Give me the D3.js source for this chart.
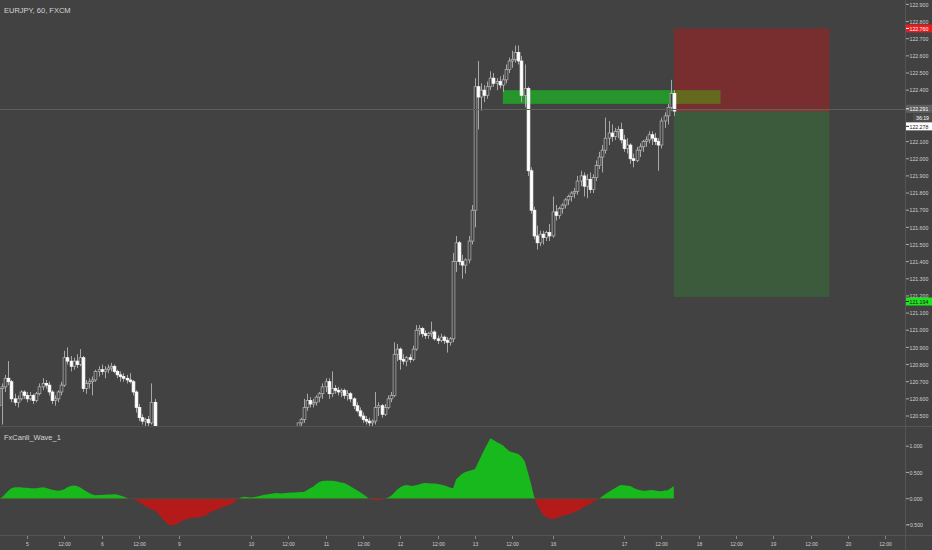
<!DOCTYPE html>
<html><head><meta charset="utf-8">
<script src="https://cdn.jsdelivr.net/npm/d3@7"></script>
<style>html,body{margin:0;padding:0;background:#424242;overflow:hidden}
text{font-family:"Liberation Sans","Arial",sans-serif;}</style>
</head><body>
<svg id="c" width="932" height="550"></svg>
<script>
const title = "EURJPY, 60, FXCM";
const indicatorName = "FxCanli_Wave_1";
const opens = [
120.56,120.66,120.67,120.72,120.70,120.60,120.58,120.60,120.64,120.62,
120.60,120.62,120.59,120.63,120.67,120.69,120.68,120.64,120.59,120.60,
120.64,120.68,120.84,120.82,120.79,120.82,120.80,120.84,120.66,120.69,
120.70,120.71,120.76,120.77,120.76,120.77,120.78,120.79,120.76,120.74,
120.73,120.72,120.71,120.70,120.64,120.55,120.49,120.47,120.48,120.46,
120.58,120.40,120.33,120.25,120.18,120.20,120.16,120.19,120.22,120.20,
120.15,120.19,120.24,120.21,120.23,120.27,120.25,120.30,120.28,120.33,
120.31,120.34,120.37,120.35,120.39,120.37,120.38,120.36,120.35,120.37,
120.34,120.36,120.37,120.36,120.38,120.36,120.39,120.37,120.40,120.38,
120.39,120.37,120.38,120.40,120.39,120.40,120.41,120.46,120.48,120.55,
120.59,120.57,120.58,120.61,120.63,120.67,120.70,120.63,120.66,120.65,
120.64,120.65,120.62,120.63,120.60,120.56,120.53,120.50,120.48,120.47,
120.46,120.47,120.55,120.56,120.51,120.55,120.60,120.62,120.86,120.89,
120.83,120.82,120.84,120.83,120.89,121.00,121.01,120.98,120.97,120.98,
120.99,120.95,120.94,120.96,120.94,120.93,120.95,121.40,121.51,121.40,
121.38,121.41,121.52,121.70,122.42,122.36,122.40,122.37,122.42,122.47,
122.44,122.45,122.43,122.46,122.52,122.57,122.58,122.62,122.57,122.37,
122.41,121.93,121.70,121.55,121.51,121.56,121.54,121.57,121.55,121.69,
121.67,121.71,121.73,121.76,121.78,121.80,121.81,121.87,121.90,121.84,
121.88,121.82,121.89,121.96,122.01,122.05,122.12,122.15,122.13,122.16,
122.17,122.11,122.06,122.08,122.00,121.99,122.05,122.07,122.10,122.11,
122.14,122.12,122.10,122.08,122.22,122.25,122.30,122.38];
const highs = [
120.68,120.69,120.74,120.82,120.71,120.63,120.62,120.65,120.65,120.64,
120.64,120.63,120.64,120.69,120.72,120.71,120.70,120.65,120.62,120.65,
120.70,120.88,120.90,120.85,120.84,120.86,120.89,120.85,120.71,120.72,
120.73,120.77,120.79,120.80,120.79,120.80,120.81,120.80,120.77,120.76,
120.75,120.74,120.75,120.71,120.65,120.57,120.51,120.49,120.50,120.69,
120.60,120.42,120.36,120.30,120.24,120.26,120.21,120.25,120.28,120.23,
120.22,120.26,120.27,120.25,120.30,120.31,120.32,120.34,120.35,120.37,
120.36,120.39,120.40,120.40,120.41,120.40,120.40,120.39,120.38,120.40,
120.37,120.39,120.41,120.40,120.42,120.40,120.42,120.41,120.42,120.41,
120.42,120.40,120.41,120.42,120.42,120.42,120.43,120.49,120.60,120.63,
120.61,120.60,120.62,120.64,120.69,120.72,120.72,120.76,120.68,120.67,
120.66,120.66,120.65,120.64,120.61,120.58,120.55,120.52,120.50,120.49,
120.48,120.64,120.58,120.57,120.57,120.62,120.64,120.93,120.92,120.90,
120.86,120.85,120.86,120.91,121.03,121.03,121.02,121.00,120.99,121.05,
121.00,120.97,120.98,120.97,120.96,120.96,121.45,121.55,121.52,121.44,
121.42,121.55,121.73,122.47,122.57,122.44,122.43,122.45,122.51,122.50,
122.47,122.48,122.49,122.55,122.59,122.63,122.66,122.66,122.60,122.55,
122.42,121.95,121.72,121.61,121.58,121.58,121.58,121.62,121.78,121.73,
121.72,121.74,121.77,121.79,121.81,121.83,121.90,121.93,121.92,121.91,
121.92,121.91,121.99,122.04,122.08,122.24,122.22,122.20,122.18,122.19,
122.21,122.14,122.12,122.09,122.03,122.07,122.09,122.11,122.13,122.16,
122.16,122.15,122.12,122.24,122.27,122.32,122.46,122.40];
const lows = [
120.44,120.45,120.64,120.68,120.58,120.56,120.55,120.59,120.60,120.58,
120.59,120.57,120.58,120.62,120.65,120.66,120.62,120.57,120.56,120.58,
120.62,120.67,120.80,120.76,120.77,120.78,120.79,120.64,120.63,120.66,
120.62,120.70,120.73,120.74,120.72,120.75,120.76,120.75,120.72,120.70,
120.70,120.69,120.69,120.62,120.52,120.47,120.45,120.44,120.44,120.45,
120.38,120.30,120.22,120.15,120.12,120.14,120.10,120.15,120.18,120.12,
120.11,120.17,120.18,120.16,120.20,120.22,120.23,120.26,120.27,120.29,
120.28,120.32,120.33,120.34,120.35,120.34,120.33,120.32,120.31,120.33,
120.30,120.32,120.34,120.33,120.35,120.32,120.36,120.34,120.36,120.35,
120.36,120.33,120.35,120.37,120.36,120.37,120.38,120.44,120.46,120.53,
120.55,120.55,120.56,120.58,120.60,120.64,120.60,120.61,120.63,120.62,
120.61,120.60,120.59,120.58,120.54,120.52,120.49,120.46,120.45,120.44,
120.43,120.45,120.50,120.49,120.50,120.54,120.58,120.61,120.82,120.77,
120.80,120.79,120.81,120.82,120.88,120.97,120.96,120.95,120.95,120.96,
120.94,120.92,120.93,120.92,120.87,120.91,120.93,121.34,121.38,121.30,
121.33,121.39,121.50,121.60,122.17,122.28,122.33,122.35,122.40,122.42,
122.40,122.41,122.39,122.44,122.50,122.53,122.56,122.55,122.33,122.30,
121.90,121.68,121.53,121.47,121.49,121.50,121.52,121.52,121.54,121.64,
121.65,121.68,121.71,121.73,121.75,121.77,121.79,121.84,121.78,121.77,
121.80,121.80,121.87,121.94,121.92,122.03,122.08,122.10,122.11,122.12,
122.09,122.04,122.03,121.97,121.95,121.98,122.01,122.04,122.07,122.09,
122.08,122.08,121.93,122.06,122.18,122.20,122.28,122.25];
const closes = [
120.66,120.67,120.72,120.70,120.60,120.58,120.60,120.64,120.62,120.60,
120.62,120.59,120.63,120.67,120.69,120.68,120.64,120.59,120.60,120.64,
120.68,120.84,120.82,120.79,120.82,120.80,120.84,120.66,120.69,120.70,
120.71,120.76,120.77,120.76,120.77,120.78,120.79,120.76,120.74,120.73,
120.72,120.71,120.70,120.64,120.55,120.49,120.47,120.48,120.46,120.58,
120.40,120.33,120.25,120.18,120.20,120.16,120.19,120.22,120.20,120.15,
120.19,120.24,120.21,120.23,120.27,120.25,120.30,120.28,120.33,120.31,
120.34,120.37,120.35,120.39,120.37,120.38,120.36,120.35,120.37,120.34,
120.36,120.37,120.36,120.38,120.36,120.39,120.37,120.40,120.38,120.39,
120.37,120.38,120.40,120.39,120.40,120.41,120.46,120.48,120.55,120.59,
120.57,120.58,120.61,120.63,120.67,120.70,120.63,120.66,120.65,120.64,
120.65,120.62,120.63,120.60,120.56,120.53,120.50,120.48,120.47,120.46,
120.47,120.55,120.56,120.51,120.55,120.60,120.62,120.86,120.89,120.83,
120.82,120.84,120.83,120.89,121.00,121.01,120.98,120.97,120.98,120.99,
120.95,120.94,120.96,120.94,120.93,120.95,121.40,121.51,121.40,121.38,
121.41,121.52,121.70,122.42,122.36,122.40,122.37,122.42,122.47,122.44,
122.45,122.43,122.46,122.52,122.57,122.58,122.62,122.57,122.37,122.41,
121.93,121.70,121.55,121.51,121.56,121.54,121.57,121.55,121.69,121.67,
121.71,121.73,121.76,121.78,121.80,121.81,121.87,121.90,121.84,121.88,
121.82,121.89,121.96,122.01,122.05,122.12,122.15,122.13,122.16,122.17,
122.11,122.06,122.08,122.00,121.99,122.05,122.07,122.10,122.11,122.14,
122.12,122.10,122.08,122.22,122.25,122.30,122.38,122.278];
const wave = [
0.00,0.03,0.09,0.15,0.20,0.22,0.22,0.22,0.21,0.21,
0.20,0.20,0.20,0.21,0.22,0.21,0.19,0.17,0.16,0.15,
0.16,0.18,0.22,0.24,0.25,0.24,0.22,0.18,0.14,0.11,
0.08,0.065,0.07,0.07,0.075,0.08,0.08,0.085,0.08,0.06,
0.04,0.02,0.00,-0.01,-0.03,-0.06,-0.10,-0.14,-0.17,-0.20,
-0.22,-0.27,-0.34,-0.41,-0.47,-0.51,-0.50,-0.49,-0.45,-0.42,
-0.39,-0.38,-0.37,-0.36,-0.355,-0.35,-0.33,-0.30,-0.26,-0.23,
-0.21,-0.18,-0.16,-0.14,-0.12,-0.09,-0.05,0.00,0.03,0.035,
0.03,0.025,0.03,0.04,0.055,0.07,0.08,0.09,0.10,0.11,
0.105,0.10,0.11,0.115,0.12,0.12,0.125,0.13,0.13,0.16,
0.20,0.23,0.28,0.32,0.335,0.34,0.34,0.34,0.335,0.325,
0.31,0.30,0.27,0.235,0.20,0.165,0.13,0.09,0.045,0.00,
-0.025,-0.03,-0.03,-0.02,0.00,0.02,0.05,0.11,0.17,0.22,
0.245,0.26,0.25,0.24,0.255,0.27,0.29,0.30,0.295,0.29,
0.29,0.28,0.27,0.255,0.235,0.215,0.20,0.37,0.43,0.48,
0.51,0.53,0.545,0.56,0.68,0.81,0.93,1.04,1.15,1.12,
1.08,1.05,1.02,0.96,0.91,0.885,0.87,0.85,0.80,0.72,
0.52,0.30,0.05,-0.10,-0.22,-0.31,-0.355,-0.38,-0.385,-0.375,
-0.36,-0.33,-0.315,-0.30,-0.28,-0.255,-0.23,-0.20,-0.165,-0.13,
-0.10,-0.065,-0.03,0.00,0.045,0.09,0.13,0.165,0.20,0.235,
0.26,0.255,0.245,0.24,0.21,0.18,0.165,0.15,0.15,0.16,
0.165,0.155,0.145,0.14,0.155,0.16,0.20,0.24];
const priceTicks = [122.9,122.8,122.7,122.6,122.5,122.4,122.1,122.0,121.9,121.8,121.7,121.6,121.5,121.4,121.3,121.2,121.1,121.0,120.9,120.8,120.7,120.6,120.5];
const waveTicks = [1, 0.5, 0, -0.5];
const timeTickBars = [9,21,33,45,58,81,93,105,117,129,141,153,165,178,201,213,225,237,249,261,273,285];
const timeTickLabels = ["5","12:00","6","12:00","9","10","12:00","11","12:00","12","12:00","13","12:00","16","17","12:00","18","12:00","19","12:00","20","12:00"];
const zoneBars = [162, 232];
const zonePrices = [122.40, 122.32];
const positionBars = [217, 267];
const stopPrice = 122.760, entryPrice = 122.278, targetPrice = 121.194;
const crosshairPrice = 122.291;
const countdown = "36:19";

const W = 932, H = 550, axisX = 905, mainBottom = 426, indTop = 427, indBottom = 535;
const svg = d3.select("#c");
svg.append("rect").attr("width", W).attr("height", H).attr("fill", "#424242");

const x = d3.scaleLinear().domain([0, 291]).range([-1, -1 + 291 * 3.11]);
const yP = d3.scaleLinear().domain([120.5, 122.7]).range([416, 38.7]);
const yW = d3.scaleLinear().domain([0, 1]).range([498.7, 446.2]);

function labelWidth(s, dw) {
  let w = 0;
  for (const ch of s) w += /[0-9]/.test(ch) ? dw : (ch === "\u2212" ? 3 : 1.4);
  return w;
}
function axisText(g, xx, yy, s, fill, anchor, dw) {
  return g.append("text").attr("x", xx).attr("y", yy).attr("fill", fill).attr("font-size", 6.2)
    .attr("text-anchor", anchor || "start")
    .attr("textLength", labelWidth(s, dw || 2.9)).attr("lengthAdjust", "spacingAndGlyphs").text(s);
}

const defs = svg.append("defs");
defs.append("clipPath").attr("id", "cm").append("rect").attr("x", 0).attr("y", 0).attr("width", axisX).attr("height", mainBottom);
defs.append("clipPath").attr("id", "cpos").append("rect").attr("x", 0).attr("y", indTop).attr("width", axisX).attr("height", yW(0) - indTop);
defs.append("clipPath").attr("id", "cneg").append("rect").attr("x", 0).attr("y", yW(0)).attr("width", axisX).attr("height", indBottom - yW(0));

const main = svg.append("g").attr("clip-path", "url(#cm)");

// supply zone
main.append("rect").attr("x", x(zoneBars[0])).attr("width", x(zoneBars[1]) - x(zoneBars[0]))
  .attr("y", yP(zonePrices[0])).attr("height", yP(zonePrices[1]) - yP(zonePrices[0])).attr("fill", "#26952b");
// position tool
const px0 = x(positionBars[0]), px1 = x(positionBars[1]);
main.append("rect").attr("x", px0).attr("width", px1 - px0).attr("y", yP(stopPrice)).attr("height", yP(entryPrice) - yP(stopPrice))
  .attr("fill", "rgb(255,0,0)").attr("fill-opacity", 0.29);
main.append("rect").attr("x", px0).attr("width", px1 - px0).attr("y", yP(entryPrice)).attr("height", yP(targetPrice) - yP(entryPrice))
  .attr("fill", "#3b5b3c");
main.append("line").attr("x1", px0).attr("x2", px1).attr("y1", yP(entryPrice) - 1).attr("y2", yP(entryPrice) - 1)
  .attr("stroke", "#a52a2a").attr("stroke-width", 2);
// crosshair line
svg.append("line").attr("x1", 0).attr("x2", axisX).attr("y1", Math.round(yP(crosshairPrice)) + 0.5).attr("y2", Math.round(yP(crosshairPrice)) + 0.5)
  .attr("stroke", "#5e5e5e").attr("stroke-width", 1);

// candles
const data = closes.map((c, i) => ({ i, o: opens[i], h: highs[i], l: lows[i], c }));
const cg = main.append("g");
cg.selectAll("line.w").data(data).join("line").attr("class", "w")
  .attr("x1", d => Math.round(x(d.i)) + 0.5).attr("x2", d => Math.round(x(d.i)) + 0.5)
  .attr("y1", d => yP(d.h)).attr("y2", d => yP(d.l)).attr("stroke", "#a8a8a8").attr("stroke-width", 1);
cg.selectAll("rect.b").data(data).join("rect").attr("class", "b")
  .attr("x", d => Math.round(x(d.i)) - 0.9).attr("width", 2.8)
  .attr("y", d => yP(Math.max(d.o, d.c))).attr("height", d => Math.max(1, Math.abs(yP(d.o) - yP(d.c))))
  .attr("fill", d => d.c >= d.o ? "#424242" : "#ffffff")
  .attr("stroke", d => d.c >= d.o ? "#b8b8b8" : "#ffffff").attr("stroke-width", 0.7);

// separators
svg.append("line").attr("x1", 0).attr("x2", W).attr("y1", mainBottom + 0.5).attr("y2", mainBottom + 0.5).attr("stroke", "#555").attr("stroke-width", 1);
svg.append("line").attr("x1", 0).attr("x2", W).attr("y1", indBottom + 0.5).attr("y2", indBottom + 0.5).attr("stroke", "#555").attr("stroke-width", 1);
svg.append("line").attr("x1", axisX + 0.5).attr("x2", axisX + 0.5).attr("y1", 0).attr("y2", H).attr("stroke", "#555").attr("stroke-width", 1);

// indicator
const area = d3.area().x((d, i) => x(i)).y0(yW(0)).y1(d => yW(d));
svg.append("path").datum(wave).attr("d", area).attr("fill", "#18b91c").attr("clip-path", "url(#cpos)");
svg.append("path").datum(wave).attr("d", area).attr("fill", "#b51a1a").attr("clip-path", "url(#cneg)");

// titles
svg.append("text").attr("x", 4).attr("y", 13).attr("fill", "#d6d6d6").attr("font-size", 7.5).text(title);
svg.append("text").attr("x", 4).attr("y", 440).attr("fill", "#d6d6d6").attr("font-size", 7.5).text(indicatorName);

// price axis
const pa = svg.append("g");
priceTicks.forEach(t => {
  const yy = yP(t);
  pa.append("line").attr("x1", axisX + 1).attr("x2", axisX + 4).attr("y1", yy).attr("y2", yy).attr("stroke", "#aaa");
  axisText(pa, 909.5, yy + 2.2, t.toFixed(3), "#cfcfcf");
});
waveTicks.forEach(t => {
  const yy = yW(t);
  pa.append("line").attr("x1", axisX + 1).attr("x2", axisX + 4).attr("y1", yy).attr("y2", yy).attr("stroke", "#aaa");
  const s = (t < 0 ? "\u2212" : "") + Math.abs(t).toFixed(3);
  axisText(pa, t < 0 ? 907 : 909.5, yy + 2.2, s, "#cfcfcf");
});
function tag(yc, txt, bg, fg, x0) {
  pa.append("rect").attr("x", x0).attr("y", yc - 4).attr("width", W - x0).attr("height", 8).attr("fill", bg);
  pa.append("line").attr("x1", axisX + 1).attr("x2", axisX + 4).attr("y1", yc).attr("y2", yc).attr("stroke", fg);
  axisText(pa, 909.5, yc + 2.2, txt, fg);
}
tag(yP(stopPrice), stopPrice.toFixed(3), "#e41e1e", "#ffffff", 906);
tag(yP(targetPrice) + 4.5, targetPrice.toFixed(3), "#1ee61e", "#111111", 906);
const cy = yP(crosshairPrice);
tag(cy, crosshairPrice.toFixed(3), "#5f5f5f", "#ffffff", 906);
pa.append("rect").attr("x", 913).attr("y", cy + 5).attr("width", W - 913).attr("height", 8).attr("fill", "#4e4e4e");
axisText(pa, 916, cy + 11.2, countdown, "#ffffff");
tag(cy + 17.5, entryPrice.toFixed(3), "#ffffff", "#222222", 906);

// time axis
const ta = svg.append("g");
timeTickBars.forEach((b, k) => {
  const xx = Math.round(x(b)) + 0.5;
  ta.append("line").attr("x1", xx).attr("x2", xx).attr("y1", indBottom + 1).attr("y2", indBottom + 4).attr("stroke", "#888");
  axisText(ta, xx, 545.5, timeTickLabels[k], "#cfcfcf", "middle", 2.8);
});
</script>
</body></html>
